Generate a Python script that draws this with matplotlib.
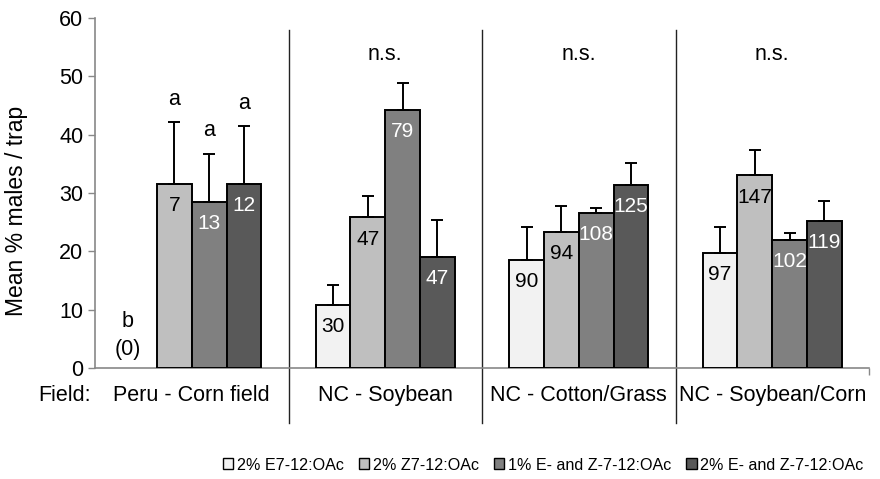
import matplotlib.pyplot as plt
from matplotlib.patches import Patch
import numpy as np

plt.rcParams['font.family'] = ['Liberation Sans', 'DejaVu Sans']

# data
fields = ["Peru - Corn field", "NC - Soybean", "NC - Cotton/Grass", "NC - Soybean/Corn"]
treatments = ["2% E7-12:OAc", "2% Z7-12:OAc", "1% E- and Z-7-12:OAc", "2% E- and Z-7-12:OAc"]
means = [
    [0.0, 31.5, 28.5, 31.5],
    [10.8, 25.8, 44.2, 19.0],
    [18.6, 23.4, 26.5, 31.4],
    [19.8, 33.0, 21.9, 25.2],
]
err_top = [
    [0.0, 42.1, 36.7, 41.4],
    [14.2, 29.5, 48.8, 25.3],
    [24.2, 27.7, 27.5, 35.1],
    [24.2, 37.3, 23.2, 28.6],
]
counts = [
    ["", "7", "13", "12"],
    ["30", "47", "79", "47"],
    ["90", "94", "108", "125"],
    ["97", "147", "102", "119"],
]
letters = [["b", "a", "a", "a"], ["", "", "", ""], ["", "", "", ""], ["", "", "", ""]]
group_notes = ["", "n.s.", "n.s.", "n.s."]

colors = ["#F2F2F2", "#BFBFBF", "#808080", "#595959"]
text_colors = ["black", "black", "white", "white"]

fs = 15.5

fig = plt.figure(figsize=(8.8, 4.79), dpi=100)
ax = fig.add_axes([95 / 880, 1 - 368 / 479, 774 / 880, 350 / 479])

bw = 0.18
means = np.array(means)
err_top = np.array(err_top)
for g in range(len(fields)):
    for t in range(len(treatments)):
        x = g + 0.5 + (t - 1.5) * bw
        m = means[g, t]
        if m > 0:
            ax.bar(x, m, bw, color=colors[t], edgecolor="black", linewidth=1.4, zorder=3)
            ax.errorbar(x, m, yerr=[[0], [err_top[g, t] - m]], fmt="none",
                        ecolor="black", elinewidth=1.4, capsize=4, capthick=1.4, zorder=4)
            ax.text(x, m - 3.7, counts[g][t], ha="center", va="center",
                    fontsize=15, color=text_colors[t], zorder=5)
            if letters[g][t]:
                ax.text(x, err_top[g, t] + 4.0, letters[g][t], ha="center", va="center", fontsize=fs)
        elif letters[g][t]:
            ax.text(x - 0.06, 7.9, letters[g][t], ha="center", va="center", fontsize=fs)
            ax.text(x - 0.06, 3.1, "(0)", ha="center", va="center", fontsize=fs)
    if group_notes[g]:
        ax.text(g + 0.5, 53.7, group_notes[g], ha="center", va="center", fontsize=fs)
    ax.text(g + 0.5, -4.7, fields[g], ha="center", va="center", fontsize=fs)
    if g > 0:
        ax.plot([g, g], [-9.4, 57.9], color="#222222", linewidth=1.0, clip_on=False, zorder=2)

ax.text(-0.155, -4.7, "Field:", ha="center", va="center", fontsize=fs)

ax.set_xlim(0, 4)
ax.set_ylim(0, 60)
ax.set_yticks(range(0, 61, 10))
ax.set_xticks([4])
ax.set_xticklabels([""])
ax.tick_params(axis="y", labelsize=fs, color="#888888", length=5, width=1)
ax.tick_params(axis="x", color="#888888", length=5, width=1)
for s in ["top", "right"]:
    ax.spines[s].set_visible(False)
for s in ["left", "bottom"]:
    ax.spines[s].set_color("#888888")
    ax.spines[s].set_linewidth(1.2)
ax.set_ylabel("Mean % males / trap", fontsize=16.5)
ax.yaxis.set_label_coords(-67 / 774, (368 - 211) / 350)

handles = [Patch(facecolor=c, edgecolor="black", linewidth=1) for c in colors]
fig.legend(handles, treatments, loc="center", bbox_to_anchor=(543 / 880, 1 - 465 / 479),
           ncol=4, frameon=False, fontsize=11.6,
           handlelength=0.65, handleheight=0.65, handletextpad=0.2, columnspacing=0.95)

fig.savefig("out.png", dpi=100)
